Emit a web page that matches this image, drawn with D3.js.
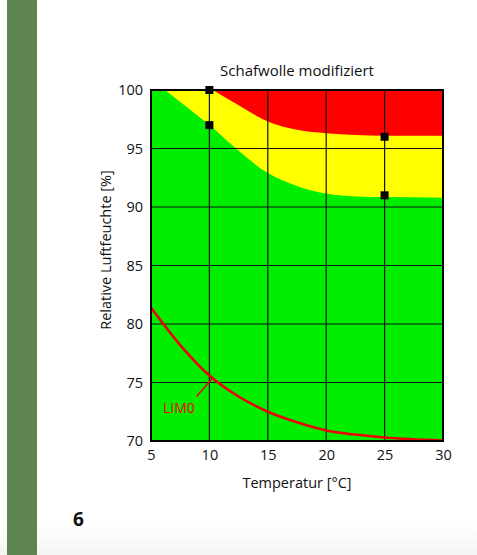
<!DOCTYPE html>
<html>
<head>
<meta charset="utf-8">
<script src="https://cdn.jsdelivr.net/npm/d3@7"></script>
<style>
  body { margin: 0; background: #fff; }
  svg { display: block; font-family: "Open Sans", "Noto Sans", sans-serif; }
</style>
</head>
<body>
<svg id="chart" width="477" height="555"></svg>
<script>
// boundary between green and yellow zone (temperature, rel. humidity)
const yellowT = [6.2, 8, 10, 12.5, 15, 17.5, 20, 22.5, 25, 30];
const yellowRH = [100, 98.6, 97, 94.8, 92.9, 91.8, 91.15, 90.9, 90.85, 90.8];
// boundary between yellow and red zone
const redT = [10.3, 12.5, 15, 17.5, 20, 22.5, 25, 30];
const redRH = [100, 98.7, 97.3, 96.6, 96.3, 96.15, 96.1, 96.1];
// LIM0 curve
const limT = [5, 7.5, 10, 12.5, 15, 17.5, 20, 22.5, 25, 30];
const limRH = [81.4, 78.2, 75.6, 73.8, 72.5, 71.6, 70.9, 70.55, 70.3, 70.05];
// measured points
const pointT = [10, 10, 25, 25];
const pointRH = [100, 97, 96, 91];

const xTicks = [5, 10, 15, 20, 25, 30];
const yTicks = [70, 75, 80, 85, 90, 95, 100];

const svg = d3.select("#chart");

// page decoration
const grad = svg.append("defs").append("linearGradient")
    .attr("id", "pageFade").attr("x1", 0).attr("x2", 0).attr("y1", 0).attr("y2", 1);
grad.append("stop").attr("offset", 0).attr("stop-color", "#ffffff");
grad.append("stop").attr("offset", 1).attr("stop-color", "#f4f4f4");
svg.append("rect").attr("x", 0).attr("y", 525).attr("width", 477).attr("height", 30).attr("fill", "url(#pageFade)");
svg.append("rect").attr("x", 7).attr("y", 0).attr("width", 30).attr("height", 555).attr("fill", "#5e8450");
svg.append("text").attr("x", 73).attr("y", 526)
    .attr("font-size", 19).attr("font-weight", "bold").attr("fill", "#111")
    .text("6");

const marginLeft = 151, marginRight = 443, marginTop = 90, marginBottom = 441;

const x = d3.scaleLinear().domain([5, 30]).range([marginLeft, marginRight]);
const y = d3.scaleLinear().domain([70, 100]).range([marginBottom, marginTop]);

svg.append("clipPath").attr("id", "plotClip")
    .append("rect").attr("x", marginLeft).attr("y", marginTop)
    .attr("width", marginRight - marginLeft).attr("height", marginBottom - marginTop);

const plot = svg.append("g").attr("clip-path", "url(#plotClip)");

plot.append("rect").attr("x", marginLeft).attr("y", marginTop)
    .attr("width", marginRight - marginLeft).attr("height", marginBottom - marginTop)
    .attr("fill", "#00ee00");

const zone = (ts, rhs) => d3.area()
    .curve(d3.curveMonotoneX)
    .x((d) => x(d[0]))
    .y0(y(100))
    .y1((d) => y(d[1]))(ts.map((t, i) => [t, rhs[i]]));

plot.append("path").attr("d", zone(yellowT, yellowRH)).attr("fill", "#ffff00");
plot.append("path").attr("d", zone(redT, redRH)).attr("fill", "#ff0000");

// grid
plot.append("g").selectAll("line").data(xTicks.slice(1, -1)).join("line")
    .attr("x1", (d) => x(d)).attr("x2", (d) => x(d))
    .attr("y1", marginTop).attr("y2", marginBottom)
    .attr("stroke", "#111").attr("stroke-width", 1.2);
plot.append("g").selectAll("line").data(yTicks.slice(1, -1)).join("line")
    .attr("x1", marginLeft).attr("x2", marginRight)
    .attr("y1", (d) => y(d)).attr("y2", (d) => y(d))
    .attr("stroke", "#111").attr("stroke-width", 1.2);

// LIM0 curve
const line = d3.line().curve(d3.curveMonotoneX).x((d) => x(d[0])).y((d) => y(d[1]));
plot.append("path")
    .attr("d", line(limT.map((t, i) => [t, limRH[i]])))
    .attr("fill", "none").attr("stroke", "#ee0000").attr("stroke-width", 2.5);

// frame
svg.append("rect").attr("x", marginLeft).attr("y", marginTop)
    .attr("width", marginRight - marginLeft).attr("height", marginBottom - marginTop)
    .attr("fill", "none").attr("stroke", "#000").attr("stroke-width", 2);

// points
svg.append("g").selectAll("rect").data(pointT.map((t, i) => [t, pointRH[i]])).join("rect")
    .attr("x", (d) => x(d[0]) - 4).attr("y", (d) => y(d[1]) - 4)
    .attr("width", 8).attr("height", 8).attr("fill", "#000");

// LIM0 label
svg.append("line")
    .attr("x1", x(8.9)).attr("y1", y(73.8))
    .attr("x2", x(10.2)).attr("y2", y(75.3))
    .attr("stroke", "#ee0000").attr("stroke-width", 1.5);
svg.append("text").attr("x", 163).attr("y", 413)
    .attr("font-size", 14).attr("fill", "#ee0000").text("LIM0");

// axes
const xAxis = svg.append("g").attr("transform", `translate(0,${marginBottom})`)
    .call(d3.axisBottom(x).tickValues(xTicks).tickSize(0).tickPadding(9));
const yAxis = svg.append("g").attr("transform", `translate(${marginLeft},0)`)
    .call(d3.axisLeft(y).tickValues(yTicks).tickSize(0).tickPadding(8));
[xAxis, yAxis].forEach((g) => {
    g.select(".domain").remove();
    g.selectAll("text").attr("font-size", 14.5).attr("fill", "#111")
        .attr("font-family", "'Open Sans', 'Noto Sans', sans-serif");
});

// titles
svg.append("text").attr("x", (marginLeft + marginRight) / 2).attr("y", 76)
    .attr("text-anchor", "middle").attr("font-size", 15).attr("fill", "#111")
    .text("Schafwolle modifiziert");
svg.append("text").attr("x", (marginLeft + marginRight) / 2).attr("y", 488)
    .attr("text-anchor", "middle").attr("font-size", 14.5).attr("fill", "#111")
    .text("Temperatur [°C]");
svg.append("text").attr("transform", `translate(111,250) rotate(-90)`)
    .attr("text-anchor", "middle").attr("font-size", 14.5).attr("fill", "#111")
    .text("Relative Luftfeuchte [%]");
</script>
</body>
</html>
